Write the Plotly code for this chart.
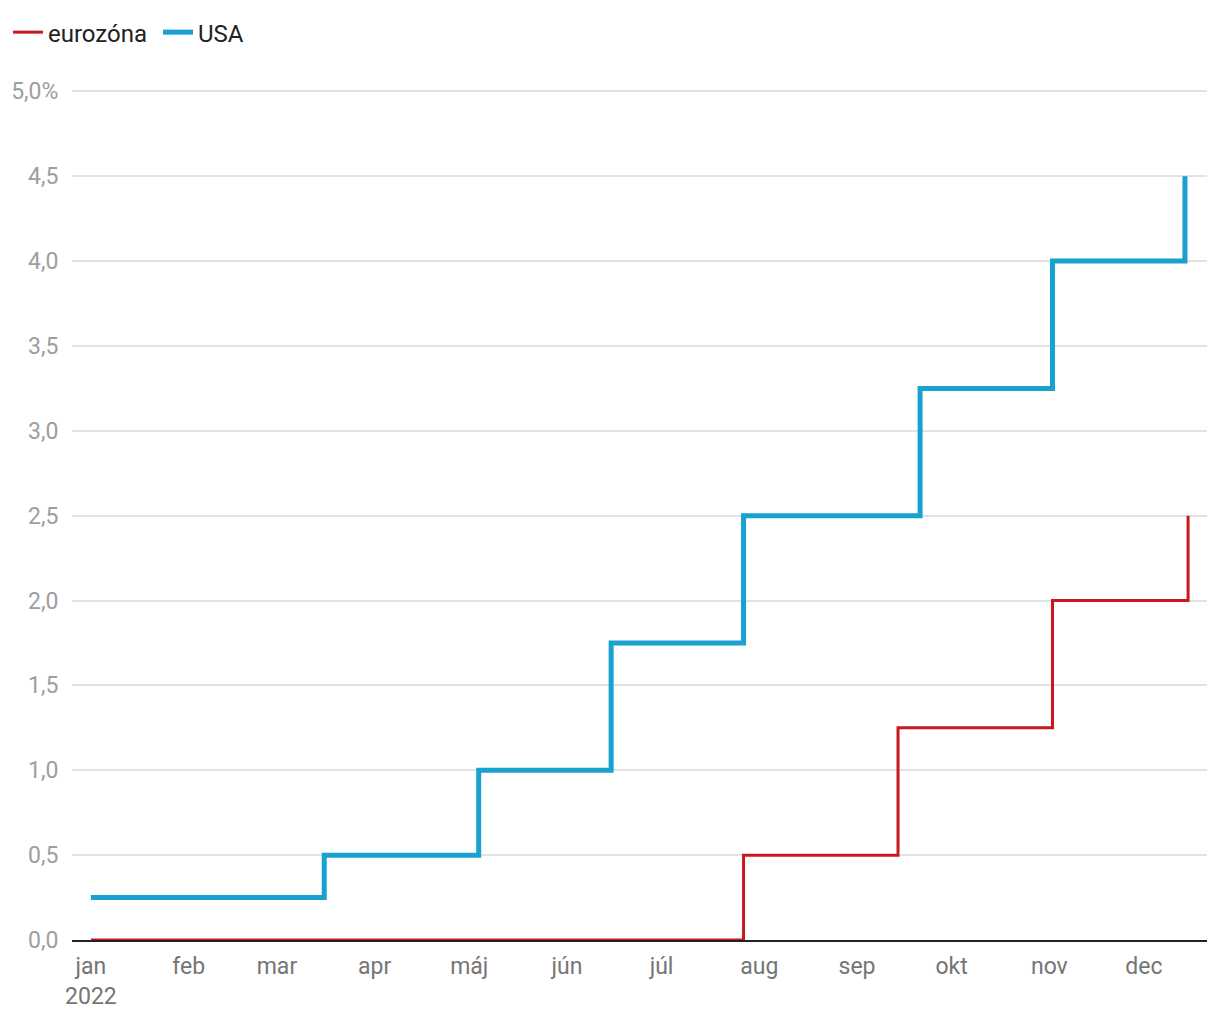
import plotly.graph_objects as go

usa_dates = ["2022-01-01", "2022-03-16", "2022-05-04", "2022-06-15", "2022-07-27",
             "2022-09-21", "2022-11-02", "2022-12-14"]
usa_values = [0.25, 0.5, 1.0, 1.75, 2.5, 3.25, 4.0, 4.5]

euro_dates = ["2022-01-01", "2022-07-27", "2022-09-14", "2022-11-02", "2022-12-15"]
euro_values = [0.0, 0.5, 1.25, 2.0, 2.5]

month_ticks = ["2022-%02d-01" % m for m in range(1, 13)]
month_labels = ["jan<br>2022", "feb", "mar", "apr", "máj", "jún", "júl", "aug",
                "sep", "okt", "nov", "dec"]

y_ticks = [0, 0.5, 1, 1.5, 2, 2.5, 3, 3.5, 4, 4.5, 5]
y_labels = ["0,0", "0,5", "1,0", "1,5", "2,0", "2,5", "3,0", "3,5", "4,0", "4,5", "5,0%"]

fig = go.Figure()
fig.add_trace(go.Scatter(x=euro_dates, y=euro_values, name="eurozóna\u00a0", mode="lines",
                         line=dict(color="#c8191e", width=3, shape="hv")))
fig.add_trace(go.Scatter(x=usa_dates, y=usa_values, name="USA", mode="lines",
                         line=dict(color="#19a1cf", width=5, shape="hv")))

fig.update_layout(
    width=1220, height=1020,
    margin=dict(l=64, r=21, t=82, b=88),
    plot_bgcolor="white", paper_bgcolor="white",
    font=dict(family="Roboto", size=23, color="#222222"),
    showlegend=True,
    legend=dict(orientation="h", xref="container", yref="container", x=0.0, y=0.998,
                xanchor="left", yanchor="top", font=dict(size=24, color="#222222"),
                itemwidth=30, tracegroupgap=0),
    xaxis=dict(
        type="date", range=["2021-12-26", "2022-12-21"],
        tickvals=month_ticks, ticktext=month_labels,
        showgrid=False, showline=True, linecolor="#222222", linewidth=2,
        ticks="outside", ticklen=4, tickcolor="rgba(0,0,0,0)",
        tickfont=dict(size=23, color="#757575"), zeroline=False,
        layer="above traces", automargin=False,
    ),
    yaxis=dict(
        range=[0, 5.008], tickvals=y_ticks, ticktext=y_labels,
        showgrid=True, gridcolor="#e2e2e2", gridwidth=1.5, zeroline=False,
        ticks="outside", ticklen=8, tickcolor="rgba(0,0,0,0)",
        tickfont=dict(size=23, color="#9e9e9e"), automargin=False,
    ),
)

fig.write_html("out.html")
